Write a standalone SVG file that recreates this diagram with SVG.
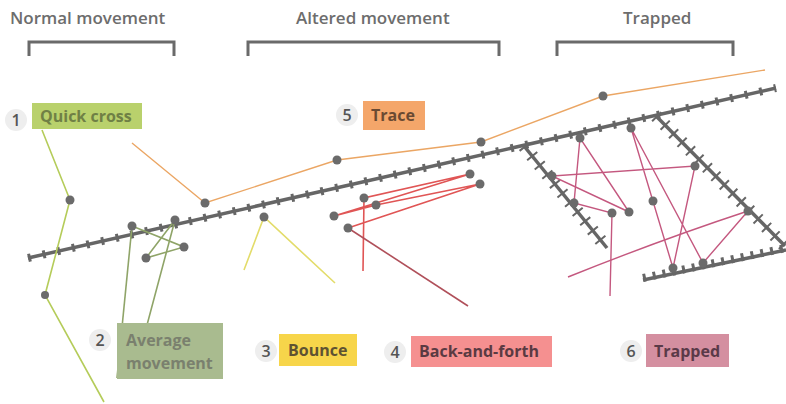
<svg xmlns="http://www.w3.org/2000/svg" width="786" height="404" viewBox="0 0 786 404">
<style>
.title{font-family:"Open Sans","Liberation Sans",sans-serif;font-size:17px;font-weight:600;fill:#6d6d6d}
.br{fill:none;stroke:#6a6a6a;stroke-width:3}
.lbl{font-family:"Open Sans","Liberation Sans",sans-serif;font-size:16px;font-weight:700}
.num{font-family:"Open Sans","Liberation Sans",sans-serif;font-size:16px;font-weight:600;fill:#555;text-anchor:middle}
.nc{fill:#eeeeee}
.wall{stroke:#666;stroke-width:3.5;fill:none}
.tick{stroke:#666;stroke-width:8;stroke-dasharray:3 12;fill:none}
.tickb{stroke:#666;stroke-width:8;stroke-dasharray:3 7;fill:none}
.tick2{stroke:#666;stroke-width:13;stroke-dasharray:2 10;fill:none}
.dot{fill:#6b6b6b}
.g1{stroke:#b5cc5a;stroke-width:1.6;fill:none}
.g2{stroke:#8fa468;stroke-width:1.6;fill:none}
.o{stroke:#eba664;stroke-width:1.4;fill:none}
.y{stroke:#e3dc6a;stroke-width:1.6;fill:none}
.r{stroke:#e05555;stroke-width:1.6;fill:none}
.p{stroke:#c4587f;stroke-width:1.4;fill:none}
</style>

<g id="titles">
<text class="title" x="10" y="24">Normal movement</text>
<path class="br" d="M29,56 V42 H174 V56"/>
<text class="title" x="296" y="24">Altered movement</text>
<path class="br" d="M248,56 V42 H499 V56"/>
<text class="title" x="623" y="24">Trapped</text>
<path class="br" d="M557,56 V42 H733 V56"/>
</g>

<g id="walls">
<path class="wall" d="M28,258 L776,88"/>
<path class="tick" d="M28,258 L776,88"/>
<path class="wall" d="M524,146 L607,248"/>
<path class="tick2" d="M524,146 L607,248"/>
<path class="wall" d="M656,116 L785,246"/>
<path class="tick2" d="M656,116 L785,246"/>
<path class="wall" d="M643,280 L786,250"/>
<path class="tickb" d="M643,278 L786,248"/>
</g>

<g id="connectors">
<path class="g1" d="M42,130 L70,200 L45,295 L104,402"/>
<path class="g2" d="M132,226 L184,247 L146,258 L175,220 L147,325"/>
<path class="g2" d="M132,226 L117,378"/>
<path class="o" d="M132,143 L205,203 L337,160 L481,142 L603,96 L765,70"/>
<path class="y" d="M244,270 L264,217 L335,283"/>
<path class="r" d="M363,271 L364,198 L470,174 L334,216 L376,205 L480,184 L348,228"/>
<path d="M348,228 L468,306" stroke="#b0505a" stroke-width="1.6" fill="none"/>
<path class="p" d="M629,212 L580,138 L574,203 L612,213 L610,296"/>
<path class="p" d="M629,212 L552,176 L695,166 L673,268 L631,128 L703,263 L748,211"/>
<path class="p" d="M748,211 Q660,240 568,277"/>
</g>

<g id="dots">
<circle class="dot" cx="70" cy="200" r="4.5"/>
<circle class="dot" cx="45" cy="295" r="4"/>
<circle class="dot" cx="132" cy="226" r="4.5"/>
<circle class="dot" cx="175" cy="220" r="4.5"/>
<circle class="dot" cx="184" cy="247" r="4.5"/>
<circle class="dot" cx="146" cy="258" r="4.5"/>
<circle class="dot" cx="205" cy="203" r="4.5"/>
<circle class="dot" cx="337" cy="160" r="4.5"/>
<circle class="dot" cx="481" cy="142" r="4.5"/>
<circle class="dot" cx="603" cy="96" r="4.5"/>
<circle class="dot" cx="264" cy="217" r="4.5"/>
<circle class="dot" cx="364" cy="198" r="4.5"/>
<circle class="dot" cx="376" cy="205" r="4.5"/>
<circle class="dot" cx="334" cy="216" r="4.5"/>
<circle class="dot" cx="348" cy="228" r="4.5"/>
<circle class="dot" cx="470" cy="174" r="4.5"/>
<circle class="dot" cx="480" cy="184" r="4.5"/>
<circle class="dot" cx="580" cy="138" r="4.5"/>
<circle class="dot" cx="631" cy="128" r="4.5"/>
<circle class="dot" cx="552" cy="176" r="4.5"/>
<circle class="dot" cx="695" cy="166" r="4.5"/>
<circle class="dot" cx="574" cy="203" r="4.5"/>
<circle class="dot" cx="612" cy="213" r="4.5"/>
<circle class="dot" cx="629" cy="212" r="4.5"/>
<circle class="dot" cx="653" cy="201" r="4.5"/>
<circle class="dot" cx="748" cy="211" r="4.5"/>
<circle class="dot" cx="673" cy="268" r="4.5"/>
<circle class="dot" cx="703" cy="263" r="4.5"/>
</g>

<g id="label1">
<circle class="nc" cx="16" cy="120" r="11"/>
<text class="num" x="16" y="126">1</text>
<rect x="32" y="103" width="110" height="26" fill="#b9d16c"/>
<text class="lbl" x="40" y="122" fill="#6f8045">Quick cross</text>
</g>
<g id="label5">
<circle class="nc" cx="347" cy="115" r="11"/>
<text class="num" x="347" y="121">5</text>
<rect x="363" y="101" width="62" height="29" fill="#f4a66a"/>
<text class="lbl" x="371" y="121" fill="#6a4a32">Trace</text>
</g>
<g id="label2">
<circle class="nc" cx="100" cy="340" r="11"/>
<text class="num" x="100" y="346">2</text>
<rect x="117" y="323" width="106" height="56" fill="#a9bb8f"/>
<text class="lbl" x="126" y="346" fill="#7a806e">Average</text>
<text class="lbl" x="126" y="369" fill="#7a806e">movement</text>
</g>
<g id="label3">
<circle class="nc" cx="266" cy="351" r="11"/>
<text class="num" x="266" y="357">3</text>
<rect x="279" y="334" width="78" height="32" fill="#f7d54a"/>
<text class="lbl" x="288" y="356" fill="#5e5232">Bounce</text>
</g>
<g id="label4">
<circle class="nc" cx="395" cy="352" r="11"/>
<text class="num" x="395" y="358">4</text>
<rect x="411" y="336" width="141" height="31" fill="#f59090"/>
<text class="lbl" x="419" y="357" fill="#5a3a42">Back-and-forth</text>
</g>
<g id="label6">
<circle class="nc" cx="631" cy="351" r="11"/>
<text class="num" x="631" y="357">6</text>
<rect x="646" y="334" width="83" height="33" fill="#d48fa0"/>
<text class="lbl" x="654" y="357" fill="#5a3a48">Trapped</text>
</g>
</svg>
